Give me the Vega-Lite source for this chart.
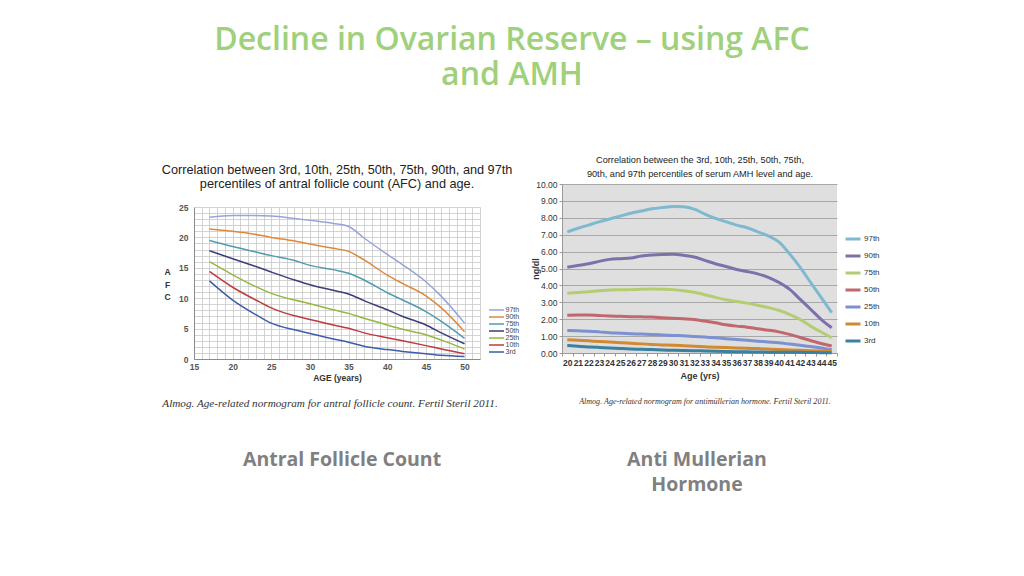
{
"$schema": "https://vega.github.io/schema/vega-lite/v6.json",
"background": "white",
"padding": {"left": 161, "top": 10, "right": 0, "bottom": 30},
"autosize": {"type": "pad"},
"config": {"view": {"stroke": null}},
"datasets": {
"afc": [
{"a":17,"p":"97th","v":23.3},{"a":20,"p":"97th","v":23.6},{"a":22,"p":"97th","v":23.6},{"a":25,"p":"97th","v":23.5},{"a":28,"p":"97th","v":23.1},{"a":30,"p":"97th","v":22.8},{"a":33,"p":"97th","v":22.3},{"a":35,"p":"97th","v":21.8},{"a":37,"p":"97th","v":19.9},{"a":40,"p":"97th","v":17.2},{"a":42,"p":"97th","v":15.5},{"a":45,"p":"97th","v":12.7},{"a":47,"p":"97th","v":10.3},{"a":50,"p":"97th","v":5.9},
{"a":17,"p":"90th","v":21.4},{"a":20,"p":"90th","v":21.0},{"a":22,"p":"90th","v":20.7},{"a":25,"p":"90th","v":20.0},{"a":28,"p":"90th","v":19.4},{"a":30,"p":"90th","v":18.9},{"a":33,"p":"90th","v":18.2},{"a":35,"p":"90th","v":17.7},{"a":37,"p":"90th","v":16.3},{"a":40,"p":"90th","v":13.8},{"a":42,"p":"90th","v":12.4},{"a":45,"p":"90th","v":10.4},{"a":47,"p":"90th","v":8.4},{"a":50,"p":"90th","v":4.5},
{"a":17,"p":"75th","v":19.5},{"a":20,"p":"75th","v":18.5},{"a":23,"p":"75th","v":17.6},{"a":25,"p":"75th","v":17.0},{"a":28,"p":"75th","v":16.2},{"a":30,"p":"75th","v":15.4},{"a":33,"p":"75th","v":14.7},{"a":35,"p":"75th","v":14.1},{"a":37,"p":"75th","v":13.0},{"a":40,"p":"75th","v":10.9},{"a":42,"p":"75th","v":9.7},{"a":45,"p":"75th","v":7.8},{"a":47,"p":"75th","v":6.2},{"a":50,"p":"75th","v":3.4},
{"a":17,"p":"50th","v":17.8},{"a":20,"p":"50th","v":16.5},{"a":23,"p":"50th","v":15.2},{"a":25,"p":"50th","v":14.3},{"a":28,"p":"50th","v":13.0},{"a":30,"p":"50th","v":12.2},{"a":33,"p":"50th","v":11.3},{"a":35,"p":"50th","v":10.7},{"a":37,"p":"50th","v":9.6},{"a":40,"p":"50th","v":8.1},{"a":42,"p":"50th","v":7.0},{"a":45,"p":"50th","v":5.6},{"a":47,"p":"50th","v":4.3},{"a":50,"p":"50th","v":2.5},
{"a":17,"p":"25th","v":16.0},{"a":20,"p":"25th","v":13.85},{"a":23,"p":"25th","v":11.9},{"a":25,"p":"25th","v":10.8},{"a":28,"p":"25th","v":9.7},{"a":30,"p":"25th","v":9.1},{"a":33,"p":"25th","v":8.1},{"a":35,"p":"25th","v":7.5},{"a":37,"p":"25th","v":6.7},{"a":40,"p":"25th","v":5.6},{"a":42,"p":"25th","v":4.9},{"a":45,"p":"25th","v":4.0},{"a":47,"p":"25th","v":3.1},{"a":50,"p":"25th","v":1.65},
{"a":17,"p":"10th","v":14.4},{"a":20,"p":"10th","v":11.8},{"a":23,"p":"10th","v":9.7},{"a":25,"p":"10th","v":8.4},{"a":28,"p":"10th","v":7.1},{"a":30,"p":"10th","v":6.5},{"a":33,"p":"10th","v":5.6},{"a":35,"p":"10th","v":5.05},{"a":37,"p":"10th","v":4.3},{"a":40,"p":"10th","v":3.5},{"a":42,"p":"10th","v":3.0},{"a":45,"p":"10th","v":2.2},{"a":47,"p":"10th","v":1.65},{"a":50,"p":"10th","v":0.85},
{"a":17,"p":"3rd","v":12.85},{"a":20,"p":"3rd","v":9.7},{"a":23,"p":"3rd","v":7.3},{"a":25,"p":"3rd","v":5.9},{"a":28,"p":"3rd","v":4.8},{"a":30,"p":"3rd","v":4.2},{"a":33,"p":"3rd","v":3.3},{"a":35,"p":"3rd","v":2.75},{"a":37,"p":"3rd","v":2.1},{"a":40,"p":"3rd","v":1.55},{"a":42,"p":"3rd","v":1.25},{"a":45,"p":"3rd","v":0.85},{"a":47,"p":"3rd","v":0.6},{"a":50,"p":"3rd","v":0.4}
],
"amh": [
{"a":20,"p":"97th","v":7.17},{"a":21,"p":"97th","v":7.38},{"a":22,"p":"97th","v":7.57},{"a":23,"p":"97th","v":7.76},{"a":24,"p":"97th","v":7.93},{"a":25,"p":"97th","v":8.1},{"a":26,"p":"97th","v":8.27},{"a":27,"p":"97th","v":8.4},{"a":28,"p":"97th","v":8.53},{"a":29,"p":"97th","v":8.61},{"a":30,"p":"97th","v":8.67},{"a":31,"p":"97th","v":8.65},{"a":32,"p":"97th","v":8.51},{"a":33,"p":"97th","v":8.22},{"a":34,"p":"97th","v":7.97},{"a":35,"p":"97th","v":7.77},{"a":36,"p":"97th","v":7.57},{"a":37,"p":"97th","v":7.41},{"a":38,"p":"97th","v":7.17},{"a":39,"p":"97th","v":6.93},{"a":40,"p":"97th","v":6.57},{"a":41,"p":"97th","v":5.88},{"a":42,"p":"97th","v":5.08},{"a":43,"p":"97th","v":4.18},{"a":44,"p":"97th","v":3.29},{"a":45,"p":"97th","v":2.39},
{"a":20,"p":"90th","v":5.08},{"a":21,"p":"90th","v":5.18},{"a":22,"p":"90th","v":5.28},{"a":23,"p":"90th","v":5.42},{"a":24,"p":"90th","v":5.54},{"a":25,"p":"90th","v":5.58},{"a":26,"p":"90th","v":5.62},{"a":27,"p":"90th","v":5.74},{"a":28,"p":"90th","v":5.8},{"a":29,"p":"90th","v":5.83},{"a":30,"p":"90th","v":5.84},{"a":31,"p":"90th","v":5.78},{"a":32,"p":"90th","v":5.68},{"a":33,"p":"90th","v":5.48},{"a":34,"p":"90th","v":5.28},{"a":35,"p":"90th","v":5.12},{"a":36,"p":"90th","v":4.94},{"a":37,"p":"90th","v":4.82},{"a":38,"p":"90th","v":4.68},{"a":39,"p":"90th","v":4.48},{"a":40,"p":"90th","v":4.18},{"a":41,"p":"90th","v":3.78},{"a":42,"p":"90th","v":3.19},{"a":43,"p":"90th","v":2.59},{"a":44,"p":"90th","v":1.99},{"a":45,"p":"90th","v":1.49},
{"a":20,"p":"75th","v":3.53},{"a":21,"p":"75th","v":3.58},{"a":22,"p":"75th","v":3.63},{"a":23,"p":"75th","v":3.68},{"a":24,"p":"75th","v":3.73},{"a":25,"p":"75th","v":3.74},{"a":26,"p":"75th","v":3.75},{"a":27,"p":"75th","v":3.77},{"a":28,"p":"75th","v":3.78},{"a":29,"p":"75th","v":3.77},{"a":30,"p":"75th","v":3.75},{"a":31,"p":"75th","v":3.69},{"a":32,"p":"75th","v":3.59},{"a":33,"p":"75th","v":3.45},{"a":34,"p":"75th","v":3.29},{"a":35,"p":"75th","v":3.15},{"a":36,"p":"75th","v":3.05},{"a":37,"p":"75th","v":2.95},{"a":38,"p":"75th","v":2.83},{"a":39,"p":"75th","v":2.69},{"a":40,"p":"75th","v":2.53},{"a":41,"p":"75th","v":2.29},{"a":42,"p":"75th","v":1.99},{"a":43,"p":"75th","v":1.59},{"a":44,"p":"75th","v":1.24},{"a":45,"p":"75th","v":0.9},
{"a":20,"p":"50th","v":2.23},{"a":21,"p":"50th","v":2.25},{"a":22,"p":"50th","v":2.25},{"a":23,"p":"50th","v":2.22},{"a":24,"p":"50th","v":2.19},{"a":25,"p":"50th","v":2.17},{"a":26,"p":"50th","v":2.15},{"a":27,"p":"50th","v":2.14},{"a":28,"p":"50th","v":2.13},{"a":29,"p":"50th","v":2.09},{"a":30,"p":"50th","v":2.05},{"a":31,"p":"50th","v":2.02},{"a":32,"p":"50th","v":1.98},{"a":33,"p":"50th","v":1.89},{"a":34,"p":"50th","v":1.79},{"a":35,"p":"50th","v":1.67},{"a":36,"p":"50th","v":1.59},{"a":37,"p":"50th","v":1.53},{"a":38,"p":"50th","v":1.43},{"a":39,"p":"50th","v":1.35},{"a":40,"p":"50th","v":1.25},{"a":41,"p":"50th","v":1.1},{"a":42,"p":"50th","v":0.92},{"a":43,"p":"50th","v":0.74},{"a":44,"p":"50th","v":0.56},{"a":45,"p":"50th","v":0.42},
{"a":20,"p":"25th","v":1.33},{"a":21,"p":"25th","v":1.31},{"a":22,"p":"25th","v":1.29},{"a":23,"p":"25th","v":1.25},{"a":24,"p":"25th","v":1.2},{"a":25,"p":"25th","v":1.17},{"a":26,"p":"25th","v":1.14},{"a":27,"p":"25th","v":1.12},{"a":28,"p":"25th","v":1.1},{"a":29,"p":"25th","v":1.07},{"a":30,"p":"25th","v":1.04},{"a":31,"p":"25th","v":1.02},{"a":32,"p":"25th","v":0.98},{"a":33,"p":"25th","v":0.94},{"a":34,"p":"25th","v":0.9},{"a":35,"p":"25th","v":0.85},{"a":36,"p":"25th","v":0.8},{"a":37,"p":"25th","v":0.75},{"a":38,"p":"25th","v":0.7},{"a":39,"p":"25th","v":0.65},{"a":40,"p":"25th","v":0.6},{"a":41,"p":"25th","v":0.53},{"a":42,"p":"25th","v":0.46},{"a":43,"p":"25th","v":0.38},{"a":44,"p":"25th","v":0.3},{"a":45,"p":"25th","v":0.2},
{"a":20,"p":"10th","v":0.78},{"a":21,"p":"10th","v":0.75},{"a":22,"p":"10th","v":0.72},{"a":23,"p":"10th","v":0.68},{"a":24,"p":"10th","v":0.65},{"a":25,"p":"10th","v":0.61},{"a":26,"p":"10th","v":0.57},{"a":27,"p":"10th","v":0.54},{"a":28,"p":"10th","v":0.51},{"a":29,"p":"10th","v":0.48},{"a":30,"p":"10th","v":0.46},{"a":31,"p":"10th","v":0.43},{"a":32,"p":"10th","v":0.4},{"a":33,"p":"10th","v":0.37},{"a":34,"p":"10th","v":0.34},{"a":35,"p":"10th","v":0.32},{"a":36,"p":"10th","v":0.3},{"a":37,"p":"10th","v":0.28},{"a":38,"p":"10th","v":0.26},{"a":39,"p":"10th","v":0.23},{"a":40,"p":"10th","v":0.2},{"a":41,"p":"10th","v":0.18},{"a":42,"p":"10th","v":0.16},{"a":43,"p":"10th","v":0.14},{"a":44,"p":"10th","v":0.12},{"a":45,"p":"10th","v":0.1},
{"a":20,"p":"3rd","v":0.44},{"a":21,"p":"3rd","v":0.4},{"a":22,"p":"3rd","v":0.36},{"a":23,"p":"3rd","v":0.33},{"a":24,"p":"3rd","v":0.3},{"a":25,"p":"3rd","v":0.27},{"a":26,"p":"3rd","v":0.24},{"a":27,"p":"3rd","v":0.22},{"a":28,"p":"3rd","v":0.2},{"a":29,"p":"3rd","v":0.18},{"a":30,"p":"3rd","v":0.16},{"a":31,"p":"3rd","v":0.15},{"a":32,"p":"3rd","v":0.14},{"a":33,"p":"3rd","v":0.12},{"a":34,"p":"3rd","v":0.1},{"a":35,"p":"3rd","v":0.09},{"a":36,"p":"3rd","v":0.08},{"a":37,"p":"3rd","v":0.07},{"a":38,"p":"3rd","v":0.06},{"a":39,"p":"3rd","v":0.05},{"a":40,"p":"3rd","v":0.04},{"a":41,"p":"3rd","v":0.04},{"a":42,"p":"3rd","v":0.04},{"a":43,"p":"3rd","v":0.03},{"a":44,"p":"3rd","v":0.02},{"a":45,"p":"3rd","v":0.02}
]
},
"bounds": "flush",
"spacing": 44,
"resolve": {"scale": {"color": "independent"}, "legend": {"color": "independent"}},
"vconcat": [
{
"data": {"values": [{"t": "Decline in Ovarian Reserve – using AFC\nand AMH"}]},
"width": 636, "height": 91,
"mark": {"type": "text", "font": "Open Sans", "fontSize": 32, "fontWeight": 600, "color": "#9fd07c", "lineBreak": "\n", "lineHeight": 35, "dy": -16},
"encoding": {"text": {"field": "t", "type": "nominal"}}
},
{
"bounds": "flush",
"spacing": 368,
"resolve": {"scale": {"color": "independent"}, "legend": {"color": "independent"}},
"hconcat": [
{
"bounds": "flush",
"spacing": 0,
"vconcat": [
{
"data": {"values": [{"t": "Correlation between 3rd, 10th, 25th, 50th, 75th, 90th, and 97th\npercentiles of antral follicle count (AFC) and age."}]},
"width": 286, "height": 62,
"mark": {"type": "text", "font": "Liberation Sans", "fontSize": 12.7, "color": "#222222", "lineBreak": "\n", "lineHeight": 14, "dy": -6},
"encoding": {"text": {"field": "t", "type": "nominal"}}
},
{
"data": {"name": "afc"},
"width": 286, "height": 152,
"mark": {"type": "line", "strokeWidth": 1.5, "interpolate": "monotone"},
"encoding": {
"x": {"field": "a", "type": "quantitative", "scale": {"domain": [15, 52], "nice": false, "zero": false},
"axis": {"values": [15,16,17,18,19,20,21,22,23,24,25,26,27,28,29,30,31,32,33,34,35,36,37,38,39,40,41,42,43,44,45,46,47,48,49,50,51,52],
"labelExpr": "datum.value % 5 === 0 ? datum.label : ''", "grid": true, "gridColor": "#c8c8c8", "gridWidth": 0.8, "ticks": false, "domainColor": "#8c8c8c",
"labelFont": "Liberation Sans", "labelFontSize": 8.5, "labelFontWeight": "bold", "labelColor": "#555555", "labelPadding": 3, "labelFlush": false, "labelOverlap": false,
"title": "AGE (years)", "titleFont": "Liberation Sans", "titleFontSize": 8.5, "titleFontWeight": "bold", "titleColor": "#333333", "titlePadding": 3}},
"y": {"field": "v", "type": "quantitative", "scale": {"domain": [0, 25], "nice": false},
"axis": {"values": [0,1,2,3,4,5,6,7,8,9,10,11,12,13,14,15,16,17,18,19,20,21,22,23,24,25],
"labelExpr": "datum.value % 5 === 0 ? datum.label : ''", "grid": true, "gridColor": "#c8c8c8", "gridWidth": 0.8, "ticks": false, "domainColor": "#8c8c8c",
"labelFont": "Liberation Sans", "labelFontSize": 8.5, "labelFontWeight": "bold", "labelColor": "#555555", "labelPadding": 6, "labelFlush": false, "labelOverlap": false,
"title": ["A", "F", "C"], "titleAngle": 0, "titleAlign": "center", "titleBaseline": "middle", "titleX": -27, "titleY": 64.5, "titleLineHeight": 12.5,
"titleFont": "Liberation Sans", "titleFontSize": 8.5, "titleFontWeight": "bold", "titleColor": "#333333"}},
"color": {"field": "p", "type": "nominal",
"scale": {"domain": ["97th","90th","75th","50th","25th","10th","3rd"], "range": ["#98a3d9","#e0883a","#4f9cb0","#3c3d7a","#94b83f","#bf3a40","#3f5cab"]},
"legend": {"title": null, "orient": "none", "legendX": 299, "legendY": 161.5, "symbolType": "M-3,0H3", "symbolSize": 25, "symbolStrokeWidth": 1.5,
"labelFont": "Liberation Sans", "labelFontSize": 7, "labelColor": "#444444", "labelOffset": 5.5, "rowPadding": -1.1, "padding": 0}}
}
},
{
"data": {"values": [{"t": "Almog. Age-related normogram for antral follicle count. Fertil Steril 2011."}]},
"width": 272, "height": 90,
"mark": {"type": "text", "font": "Liberation Serif", "fontSize": 11.2, "fontStyle": "italic", "color": "#333333"},
"encoding": {"text": {"field": "t", "type": "nominal"}}
},
{
"data": {"values": [{"t": "Antral Follicle Count"}]},
"width": 296, "height": 18,
"mark": {"type": "text", "font": "Open Sans", "fontSize": 19.5, "fontWeight": "bold", "color": "#808080", "dy": 2},
"encoding": {"text": {"field": "t", "type": "nominal"}}
}
]
},
{
"bounds": "flush",
"spacing": 0,
"vconcat": [
{
"data": {"values": [{"t": "Correlation between the 3rd, 10th, 25th, 50th, 75th,\n90th, and 97th percentiles of serum AMH level and age."}]},
"width": 276, "height": 39,
"mark": {"type": "text", "font": "Liberation Sans Narrow, Liberation Sans", "fontSize": 9.2, "color": "#222222", "lineBreak": "\n", "lineHeight": 14, "dy": -4.5},
"encoding": {"text": {"field": "t", "type": "nominal"}}
},
{
"data": {"name": "amh"},
"width": 275, "height": 169,
"view": {"fill": "#dfdfdf", "stroke": null},
"mark": {"type": "line", "strokeWidth": 3, "interpolate": "monotone"},
"encoding": {
"x": {"field": "a", "type": "ordinal", "bandPosition": 0.5,
"scale": {"type": "band", "paddingInner": 0, "paddingOuter": 0, "domain": [20,21,22,23,24,25,26,27,28,29,30,31,32,33,34,35,36,37,38,39,40,41,42,43,44,45]},
"axis": {"labelAngle": 0, "labelFont": "Liberation Sans Narrow, Liberation Sans", "labelFontSize": 8.5, "labelFontWeight": "bold", "labelColor": "#333333", "labelOverlap": false,
"tickBand": "extent", "tickSize": 3, "tickColor": "#999999", "domainColor": "#999999", "labelPadding": 2,
"title": "Age (yrs)", "titleFont": "Liberation Sans Narrow, Liberation Sans", "titleFontSize": 9, "titleFontWeight": "bold", "titleColor": "#333333", "titlePadding": 5}},
"y": {"field": "v", "type": "quantitative", "scale": {"domain": [0, 10], "nice": false},
"axis": {"values": [0,1,2,3,4,5,6,7,8,9,10], "format": ".2f", "grid": true, "gridColor": "#a8a8a8", "tickSize": 3, "tickColor": "#999999", "domainColor": "#999999",
"labelFont": "Liberation Sans Narrow, Liberation Sans", "labelFontSize": 8.5, "labelColor": "#333333", "labelPadding": 2,
"title": "ng/dl", "titleFont": "Liberation Sans Narrow, Liberation Sans", "titleFontSize": 9, "titleFontWeight": "bold", "titleColor": "#333333", "titleX": -27, "titleY": 84.5, "titleBaseline": "middle"}},
"color": {"field": "p", "type": "nominal",
"scale": {"domain": ["97th","90th","75th","50th","25th","10th","3rd"], "range": ["#7fb9d0","#7e70aa","#b5cd72","#c2676d","#7c91d1","#d18a32","#3b7fa1"]},
"legend": {"title": null, "orient": "none", "legendX": 287, "legendY": 90, "symbolType": "M-3,0H3", "symbolSize": 25, "symbolStrokeWidth": 3,
"labelFont": "Liberation Sans Narrow, Liberation Sans", "labelFontSize": 8, "labelColor": "#333333", "labelOffset": 7, "rowPadding": 5, "padding": 0}}
}
},
{
"data": {"values": [{"t": "Almog. Age-related normogram for antimüllerian hormone. Fertil Steril 2011."}]},
"width": 286, "height": 98,
"mark": {"type": "text", "font": "Liberation Serif", "fontSize": 8.05, "fontStyle": "italic", "color": "#333333"},
"encoding": {"text": {"field": "t", "type": "nominal"}}
},
{
"data": {"values": [{"t": "Anti Mullerian\nHormone"}]},
"width": 270, "height": 39,
"mark": {"type": "text", "font": "Open Sans", "fontSize": 19.5, "fontWeight": "bold", "color": "#808080", "lineBreak": "\n", "lineHeight": 25, "dy": -11},
"encoding": {"text": {"field": "t", "type": "nominal"}}
}
]
}
]
}
]
}
